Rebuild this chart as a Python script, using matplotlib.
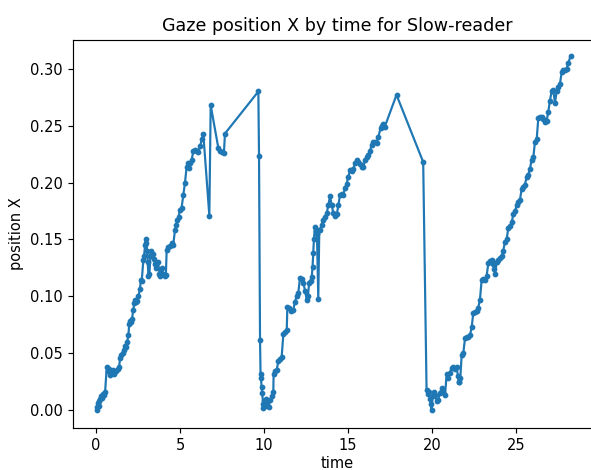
import matplotlib
matplotlib.use("Agg")
import matplotlib.pyplot as plt

# Gaze samples: time (s) and horizontal gaze position
time = [
    0.04, 0.08, 0.12, 0.16, 0.20, 0.26, 0.32, 0.38, 0.44, 0.50, 0.54,
    0.64, 0.70, 0.78, 0.86, 0.94, 1.02, 1.10, 1.20, 1.30, 1.38,
    1.43, 1.50, 1.58, 1.66, 1.73, 1.80, 1.86, 1.93, 1.98, 2.03, 2.08, 2.14,
    2.22, 2.28, 2.32, 2.38, 2.45, 2.52, 2.62, 2.66, 2.72, 2.82, 2.86, 2.92,
    2.96, 3.00, 3.04, 3.08, 3.12, 3.18, 3.24, 3.30, 3.38, 3.46, 3.52, 3.60,
    3.70, 3.78, 3.84, 3.92, 4.00, 4.10, 4.16, 4.21, 4.30, 4.40, 4.50, 4.60,
    4.70, 4.78, 4.85, 4.92, 5.00, 5.10, 5.20, 5.30, 5.40, 5.46, 5.52, 5.60,
    5.70, 5.80, 5.90, 6.00, 6.10, 6.20, 6.30, 6.39, 6.75, 6.83, 7.29, 7.40,
    7.50, 7.62, 7.68, 9.67, 9.71, 9.77, 9.80, 9.83, 9.86, 9.90, 9.95, 9.97,
    10.02, 10.08, 10.14, 10.20, 10.28, 10.36, 10.46, 10.56, 10.58, 10.66,
    10.76, 10.86, 10.96, 11.06, 11.16, 11.26, 11.36, 11.40, 11.50, 11.62,
    11.75, 11.85, 11.95, 12.05, 12.15, 12.25, 12.35, 12.45, 12.55, 12.62,
    12.70, 12.78, 12.85, 12.90, 12.94, 12.98, 13.04, 13.10, 13.16, 13.24,
    13.30, 13.34, 13.44, 13.54, 13.64, 13.74, 13.84, 13.94, 14.04, 14.14,
    14.24, 14.34, 14.44, 14.53, 14.63, 14.73, 14.83, 14.93, 15.03, 15.13,
    15.23, 15.33, 15.43, 15.53, 15.63, 15.73, 15.83, 15.93, 16.03, 16.13,
    16.22, 16.32, 16.42, 16.52, 16.62, 16.72, 16.82, 16.95, 17.05, 17.11,
    17.20, 17.90, 19.49, 19.69, 19.75, 19.82, 19.88, 19.94, 19.99, 20.05,
    20.12, 20.20, 20.30, 20.39, 20.48, 20.59, 20.68, 20.79, 20.89, 20.98,
    21.08, 21.18, 21.28, 21.38, 21.48, 21.56, 21.60, 21.64, 21.70, 21.78,
    21.88, 21.98, 22.08, 22.18, 22.28, 22.38, 22.47, 22.57, 22.67, 22.77,
    22.87, 22.97, 23.07, 23.17, 23.27, 23.37, 23.47, 23.57, 23.67, 23.72,
    23.77, 23.87, 23.97, 24.07, 24.16, 24.26, 24.36, 24.46, 24.56, 24.66,
    24.76, 24.86, 24.96, 25.06, 25.16, 25.26, 25.35, 25.45, 25.55, 25.65,
    25.75, 25.85, 25.95, 26.05, 26.15, 26.25, 26.35, 26.45, 26.55, 26.65,
    26.75, 26.84, 26.94, 27.04, 27.14, 27.24, 27.34, 27.44, 27.54, 27.64,
    27.74, 27.83, 27.93, 28.03, 28.13, 28.27,
]

position_x = [
    0.000, 0.003, 0.006, 0.004, 0.008, 0.010, 0.012, 0.011, 0.014, 0.013, 0.016,
    0.038, 0.034, 0.036, 0.031, 0.033, 0.035, 0.032, 0.034, 0.036, 0.038,
    0.046, 0.048, 0.050, 0.053, 0.056, 0.055, 0.060, 0.066, 0.076, 0.078, 0.077, 0.080,
    0.088, 0.094, 0.097, 0.095, 0.096, 0.100, 0.106, 0.114, 0.113, 0.132, 0.135, 0.145,
    0.150, 0.147, 0.140, 0.130, 0.118, 0.120, 0.135, 0.140, 0.137, 0.133, 0.128, 0.125,
    0.130, 0.120, 0.118, 0.125, 0.120, 0.118, 0.119, 0.141, 0.143, 0.144, 0.147, 0.145,
    0.158, 0.163, 0.167, 0.170, 0.176, 0.178, 0.189, 0.200, 0.214, 0.217, 0.213, 0.217,
    0.220, 0.228, 0.229, 0.228, 0.227, 0.232, 0.238, 0.243, 0.171, 0.268, 0.230, 0.228,
    0.227, 0.226, 0.243, 0.280, 0.223, 0.062, 0.032, 0.028, 0.020, 0.015, 0.005, 0.002,
    0.008, 0.004, 0.010, 0.006, 0.003, 0.009, 0.012, 0.016, 0.032, 0.034,
    0.035, 0.043, 0.045, 0.047, 0.067, 0.069, 0.070, 0.091, 0.090, 0.087,
    0.088, 0.095, 0.100, 0.103, 0.116, 0.115, 0.112, 0.105, 0.097, 0.100,
    0.112, 0.113, 0.117, 0.126, 0.138, 0.150, 0.161, 0.157, 0.155, 0.098,
    0.158, 0.158, 0.163, 0.167, 0.170, 0.173, 0.180, 0.188, 0.180, 0.173,
    0.171, 0.172, 0.180, 0.189, 0.190, 0.189, 0.195, 0.199, 0.205, 0.211,
    0.210, 0.212, 0.217, 0.220, 0.218, 0.216, 0.214, 0.214, 0.220, 0.222,
    0.224, 0.228, 0.233, 0.236, 0.236, 0.235, 0.240, 0.248, 0.250, 0.251,
    0.249, 0.277, 0.218, 0.018, 0.014, 0.016, 0.010, 0.005, 0.000, 0.012,
    0.016, 0.013, 0.008, 0.009, 0.015, 0.019, 0.016, 0.013, 0.032, 0.028,
    0.033, 0.037, 0.038, 0.036, 0.038, 0.030, 0.025, 0.025, 0.028, 0.048,
    0.050, 0.063, 0.064, 0.064, 0.066, 0.073, 0.085, 0.086, 0.087, 0.090,
    0.097, 0.114, 0.115, 0.114, 0.118, 0.129, 0.131, 0.132, 0.128, 0.124,
    0.120, 0.130, 0.132, 0.134, 0.135, 0.140, 0.148, 0.150, 0.160, 0.162,
    0.165, 0.172, 0.175, 0.180, 0.183, 0.185, 0.194, 0.196, 0.198, 0.205,
    0.207, 0.212, 0.220, 0.222, 0.236, 0.238, 0.257, 0.258, 0.258, 0.256,
    0.253, 0.254, 0.262, 0.272, 0.280, 0.281, 0.270, 0.280, 0.284, 0.287,
    0.297, 0.299, 0.299, 0.300, 0.305, 0.311,
]

SCALE = 1.05
plt.rcParams.update({
    "font.family": "DejaVu Sans",
    "font.size": 10 * SCALE,
    "axes.titlesize": 12 * SCALE,
    "axes.linewidth": 0.8 * SCALE,
    "xtick.major.width": 0.8 * SCALE,
    "ytick.major.width": 0.8 * SCALE,
    "xtick.major.size": 3.5 * SCALE,
    "ytick.major.size": 3.5 * SCALE,
})

fig = plt.figure(figsize=(5.91, 4.70), dpi=100)
# the axes run past the right edge of the canvas
ax = fig.add_axes([0.123, 0.090, 0.895, 0.8255])
ax.spines["right"].set_visible(False)

ax.plot(time, position_x, marker=".", color="#1f77b4",
        linewidth=1.5 * SCALE, markersize=6 * SCALE)

ax.set_xlim(-1.39, 30.12)
ax.set_ylim(-0.0155, 0.3255)
ax.set_title("Gaze position X by time for Slow-reader", pad=6 * SCALE)
ax.set_xlabel("time", labelpad=2.5)
ax.set_ylabel("position X")
ax.set_xticks([0, 5, 10, 15, 20, 25])
ax.set_yticks([0.00, 0.05, 0.10, 0.15, 0.20, 0.25, 0.30])

fig.savefig("out.png", dpi=100)
